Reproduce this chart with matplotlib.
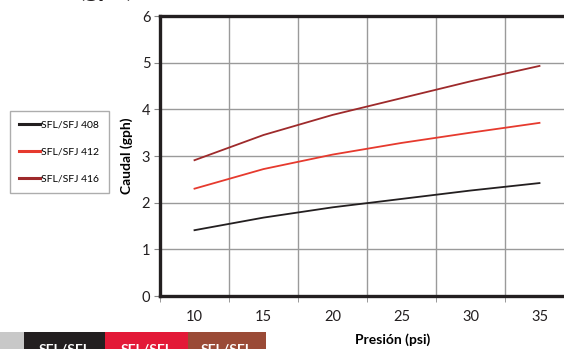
import matplotlib.pyplot as plt
from matplotlib.patches import Rectangle
from matplotlib.ticker import FixedLocator

# data
presion = [10, 15, 20, 25, 30, 35]
caudal_408 = [1.41, 1.68, 1.90, 2.08, 2.26, 2.42]
caudal_412 = [2.30, 2.72, 3.03, 3.28, 3.50, 3.71]
caudal_416 = [2.91, 3.45, 3.88, 4.24, 4.60, 4.93]
series = ["SFL/SFJ 408", "SFL/SFJ 412", "SFL/SFJ 416"]
colores = ["#231f20", "#e63a2e", "#9e2a2b"]
yticks = [0, 1, 2, 3, 4, 5, 6]

plt.rcParams['font.family'] = ['Lato', 'DejaVu Sans']

fig = plt.figure(figsize=(5.64, 3.49), dpi=100)
ax = fig.add_axes([160/564, 53/349, 414/564, 280/349])

for vals, lab, col in zip([caudal_408, caudal_412, caudal_416], series, colores):
    ax.plot(presion, vals, color=col, lw=1.3, label=lab)

ax.set_xlim(7.5, 37.5)
ax.set_ylim(0, 6)
ax.set_xticks(presion)
ax.xaxis.set_minor_locator(FixedLocator([7.5, 12.5, 17.5, 22.5, 27.5, 32.5, 37.5]))
ax.set_yticks(yticks)
ax.tick_params(axis='x', which='major', length=0, pad=10, labelsize=10.5, colors='#231f20')
ax.tick_params(axis='x', which='minor', length=4, color='#888888', direction='out')
ax.tick_params(axis='y', length=4, color='#888888', labelcolor='#231f20',
               labelsize=10.5, pad=3)
ax.grid(True, which='minor', axis='x', color='#9a9a9a', lw=1)
ax.grid(True, which='major', axis='y', color='#9a9a9a', lw=1)
ax.set_axisbelow(True)
for s in ['left', 'bottom', 'top']:
    ax.spines[s].set_linewidth(2.4)
    ax.spines[s].set_color('#231f20')
ax.spines['right'].set_visible(False)

ax.set_ylabel("Caudal (gph)", fontsize=10, fontweight='bold', labelpad=6)
fig.text(393/564, 1 - 340/349, "Presión (psi)", fontsize=10, fontweight='bold',
         ha='center', va='center')

leg = fig.legend(loc='upper left', bbox_to_anchor=(10/564, 1 - 111/349),
                 fontsize=7.5, frameon=True, fancybox=False, handlelength=2.0,
                 handletextpad=0.1, labelspacing=1.7, borderpad=0.9,
                 borderaxespad=0)
leg.get_frame().set_edgecolor('#999999')
leg.get_frame().set_linewidth(1)
for h in leg.get_lines():
    h.set_linewidth(2.2)

# cut-off title at the top
fig.text(78/564, 1.0 + 3/349, "(gph)", fontsize=18, fontweight='bold', color='#231f20',
         va='baseline', ha='left')

# cut-off table header at bottom left
cajas = [(0, 24, "#c8c8c8", ""), (24, 81, "#231f20", "SFL/SFL"),
         (105, 83, "#e31937", "SFL/SFL"), (188, 78, "#9a4a36", "SFL/SFL")]
for x0, w, c, t in cajas:
    fig.patches.append(Rectangle((x0/564, 0), w/564, 17/349, transform=fig.transFigure,
                                 facecolor=c, edgecolor='none'))
    if t:
        fig.text((x0 + w/2)/564, -6/349, t, color='white', fontsize=10,
                 fontweight='bold', ha='center', va='bottom')

fig.savefig("out.png", dpi=100)
